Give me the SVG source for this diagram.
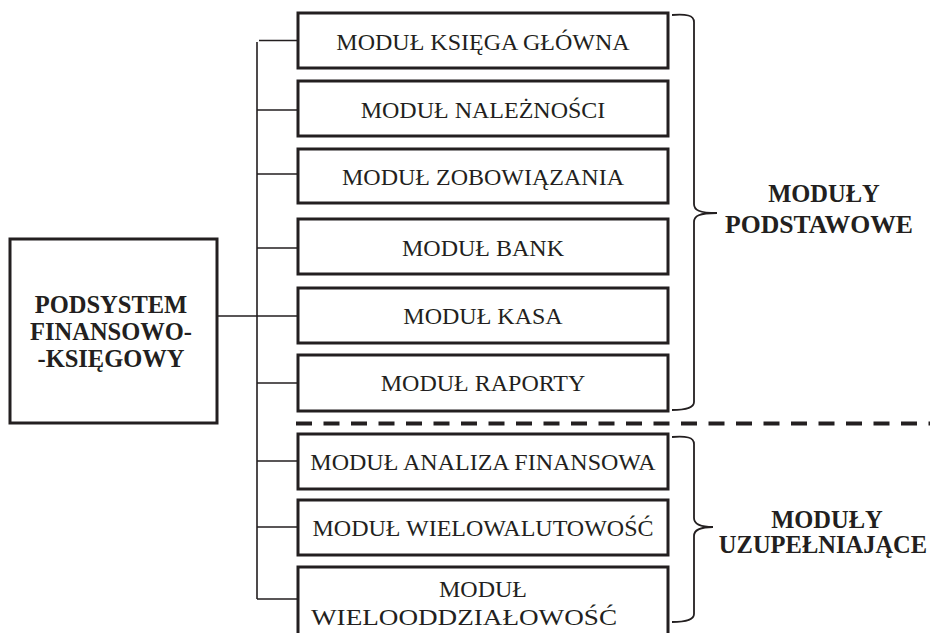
<svg xmlns="http://www.w3.org/2000/svg" width="930" height="633" viewBox="0 0 930 633">
  <style>
    .box { fill: #fff; stroke: #231f20; stroke-width: 3; }
    .conn { fill: none; stroke: #231f20; stroke-width: 1.6; }
    .brace { fill: none; stroke: #231f20; stroke-width: 1.8; }
    .t { font-family: "Liberation Serif", "Times New Roman", serif; font-size: 24px; fill: #231f20; text-anchor: middle; }
    .b { font-family: "Liberation Serif", "Times New Roman", serif; font-size: 24.5px; font-weight: bold; fill: #231f20; text-anchor: middle; }
  </style>
  <rect width="930" height="633" fill="#fff"/>

  <g id="connectors">
    <path class="conn" d="M257 42 V599 M259 40.5 H298 M257 110 H298 M257 174 H298 M257 248 H298 M217 316 H298 M257 383 H298 M257 461 H298 M257 527 H298 M257 599 H298"/>
  </g>

  <g id="podsystem">
    <rect class="box" x="10" y="239" width="207" height="184"/>
    <text class="b" x="111" y="313">PODSYSTEM</text>
    <text class="b" x="111" y="340">FINANSOWO-</text>
    <text class="b" x="111" y="367">-KSIĘGOWY</text>
  </g>

  <g id="m1">
    <rect class="box" x="298" y="13" width="370" height="55"/>
    <text class="t" x="483" y="49.5">MODUŁ KSIĘGA GŁÓWNA</text>
  </g>
  <g id="m2">
    <rect class="box" x="298" y="81" width="370" height="55"/>
    <text class="t" x="483" y="117.5">MODUŁ NALEŻNOŚCI</text>
  </g>
  <g id="m3">
    <rect class="box" x="298" y="149" width="370" height="54"/>
    <text class="t" x="483" y="185">MODUŁ ZOBOWIĄZANIA</text>
  </g>
  <g id="m4">
    <rect class="box" x="298" y="219" width="370" height="55"/>
    <text class="t" x="483" y="256">MODUŁ BANK</text>
  </g>
  <g id="m5">
    <rect class="box" x="298" y="288" width="370" height="55"/>
    <text class="t" x="483" y="324">MODUŁ KASA</text>
  </g>
  <g id="m6">
    <rect class="box" x="298" y="355" width="370" height="56"/>
    <text class="t" x="483" y="391">MODUŁ RAPORTY</text>
  </g>
  <g id="m7">
    <rect class="box" x="298" y="434" width="370" height="55"/>
    <text class="t" x="483" y="470">MODUŁ ANALIZA FINANSOWA</text>
  </g>
  <g id="m8">
    <rect class="box" x="298" y="500" width="370" height="55"/>
    <text class="t" x="483" y="536">MODUŁ WIELOWALUTOWOŚĆ</text>
  </g>
  <g id="m9">
    <rect class="box" x="298" y="567" width="370" height="80"/>
    <text class="t" x="483" y="597">MODUŁ</text>
    <text class="t" x="464" y="625" textLength="306" lengthAdjust="spacingAndGlyphs">WIELOODDZIAŁOWOŚĆ</text>
  </g>

  <g id="separator">
    <line x1="296" y1="423.5" x2="930" y2="423.5" stroke="#231f20" stroke-width="4" stroke-dasharray="16 11.5"/>
  </g>

  <g id="brace-podstawowe">
    <path class="brace" d="M672 15 C686 14 694 15 694 22 L694 204 C694 210 699 213 717 213 C699 213 694 216 694 222 L694 402 C694 408 686 410 672 410"/>
    <text class="b" x="824" y="202">MODUŁY</text>
    <text class="b" x="819" y="233" textLength="188" lengthAdjust="spacingAndGlyphs">PODSTAWOWE</text>
  </g>

  <g id="brace-uzupelniajace">
    <path class="brace" d="M672 437 C686 436 694 437 694 444 L694 518 C694 524 699 527 713 527 C699 527 694 530 694 536 L694 614 C694 620 686 622 672 622"/>
    <text class="b" x="827" y="528">MODUŁY</text>
    <text class="b" x="823" y="553">UZUPEŁNIAJĄCE</text>
  </g>
</svg>
